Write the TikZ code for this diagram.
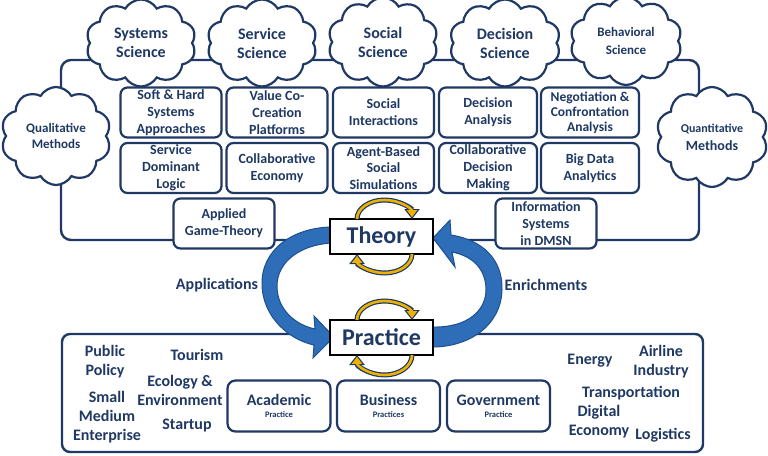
\documentclass[tikz,border=0pt]{standalone}
\usepackage{fontspec}
\setmainfont{Carlito}
\usetikzlibrary{shapes.symbols,arrows.meta}
\definecolor{navy}{HTML}{1F3864}
\definecolor{arrowblue}{HTML}{2E6DB8}
\definecolor{arrowdark}{HTML}{1E4F8F}
\definecolor{gold}{HTML}{EDB200}
\begin{document}
\begin{tikzpicture}[x=1pt,y=-1pt,
  every node/.style={text=navy},
  frame/.style={draw=navy, line width=2.4pt, rounded corners=10pt},
  cloudbox/.style={cloud, cloud puffs=10, cloud puff arc=120, cloud ignores aspect,
     draw=navy, line width=2.2pt, fill=white, align=center, inner sep=0pt,
     font=\bfseries\fontsize{16}{19}\selectfont},
  topbox/.style={draw=navy, line width=2.2pt, rounded corners=7pt, fill=white,
     minimum width=101pt, minimum height=50pt, align=center, inner sep=1pt,
     font=\bfseries\fontsize{14}{16.8}\selectfont},
  tpbox/.style={draw=black, line width=2pt, fill=white, minimum width=103pt,
     minimum height=35pt, inner sep=0pt, font=\bfseries\fontsize{24}{28}\selectfont},
  pbox/.style={draw=navy, line width=2.2pt, rounded corners=8pt, fill=white,
     minimum width=103pt, minimum height=51pt, align=center, inner sep=1pt},
  plain/.style={font=\bfseries\fontsize{16}{19}\selectfont, align=center, inner sep=0pt},
  bigarrow/.style={fill=arrowblue, draw=arrowdark, line width=1pt},
  cycleout/.style={draw=navy, line width=5pt, -{Triangle[length=10pt,width=15pt]}},
  cyclein/.style={draw=gold, line width=2.6pt, shorten >=1.8pt, -{Triangle[length=7pt,width=10pt]}}
]
\useasboundingbox (0,0) rectangle (768,455);
% frames
\draw[frame] (61,60) rectangle (699,240);
\draw[frame, rounded corners=8pt] (62,334) rectangle (703,452);
% clouds
\node[cloudbox, minimum width=110pt, minimum height=87pt] (sys) at (141,43) {Systems\\Science};
\node[cloudbox, minimum width=110pt, minimum height=87pt] (ser) at (262,43) {Service\\Science};
\node[cloudbox, minimum width=110pt, minimum height=89pt] (soc) at (383,42) {Social\\Science};
\node[cloudbox, minimum width=111pt, minimum height=87pt] (dec) at (505,43) {Decision\\Science};
\node[cloudbox, minimum width=112pt, minimum height=88pt, font=\bfseries\fontsize{13}{18}\selectfont] (beh) at (626,41) {Behavioral\\Science};
\node[cloudbox, minimum width=110pt, minimum height=98pt, font=\bfseries\fontsize{13}{16}\selectfont] (qual) at (56,136) {Qualitative\\Methods};
\node[cloudbox, minimum width=112pt, minimum height=100pt] (quan) at (712,137) {{\fontsize{12}{13}\selectfont Quantitative}\\[-1pt]{\fontsize{14}{15}\selectfont Methods}};
% top boxes
\node[topbox] (b11) at (171,112.5) {Soft \& Hard\\Systems\\Approaches};
\node[topbox] (b12) at (277,112.5) {Value Co-\\Creation\\Platforms};
\node[topbox] (b13) at (383.5,112.5) {Social\\Interactions};
\node[topbox, minimum width=98pt] (b14) at (488,112.5) {Decision\\Analysis};
\node[topbox, minimum width=98pt, font=\bfseries\fontsize{13.5}{15}\selectfont] (b15) at (590,112.5) {Negotiation \&\\Confrontation\\Analysis};
\node[topbox] (b21) at (171,168) {Service\\Dominant\\Logic};
\node[topbox] (b22) at (277,168) {Collaborative\\Economy};
\node[topbox] (b23) at (383.5,168) {Agent-Based\\Social\\Simulations};
\node[topbox, minimum width=98pt] (b24) at (488,168) {Collaborative\\Decision\\Making};
\node[topbox, minimum width=98pt] (b25) at (590,168) {Big Data\\Analytics};
\node[topbox] (agt) at (224,223.5) {Applied\\Game-Theory};
\node[topbox] (isd) at (546,223.5) {Information\\Systems\\in DMSN};
% big cycle arrows
\draw[bigarrow] (331,227) .. controls (292,228) and (261,250) .. (262,285)
   .. controls (263,318) and (290,340) .. (314,345)
   -- (313,358) -- (334,337) -- (314,316) -- (315,329)
   .. controls (296,325) and (277,310) .. (277,286)
   .. controls (277,262) and (300,245) .. (331,243) -- cycle;
\draw[bigarrow] (432,327) .. controls (468,328) and (487,310) .. (486,288)
   .. controls (485,268) and (472,256) .. (452,252)
   -- (455,267) -- (433,238) -- (450,220) -- (451,235)
   .. controls (483,240) and (503,260) .. (502,290)
   .. controls (501,325) and (470,347) .. (432,347) -- cycle;
% theory / practice
\node[tpbox] (th) at (381.5,236.5) {Theory};
\node[tpbox] (pr) at (381.5,337.5) {Practice};
\coordinate (tl) at (357,219); \coordinate (tr) at (412,219);
\coordinate (bl) at (357,254); \coordinate (br) at (412,254);
\coordinate (ptl) at (357,320); \coordinate (ptr) at (412,320);
\coordinate (pbl) at (357,355); \coordinate (pbr) at (412,355);
\foreach \s in {cycleout,cyclein}{
  \draw[\s] (tl) arc[start angle=180, end angle=360, x radius=27.5, y radius=19];
  \draw[\s] (br) arc[start angle=0, end angle=180, x radius=27.5, y radius=19];
  \draw[\s] (ptl) arc[start angle=180, end angle=360, x radius=27.5, y radius=19];
  \draw[\s] (pbr) arc[start angle=0, end angle=180, x radius=27.5, y radius=20];
}
\node[plain] (app) at (217,285) {Applications};
\node[plain] (enr) at (546,285) {Enrichments};
% practice boxes
\node[pbox] (aca) at (279,406) {{\bfseries\fontsize{16}{17}\selectfont Academic}\\{\bfseries\fontsize{8.5}{12}\selectfont Practice}};
\node[pbox] (bus) at (388.5,406) {{\bfseries\fontsize{16}{17}\selectfont Business}\\{\bfseries\fontsize{8.5}{12}\selectfont Practices}};
\node[pbox] (gov) at (498.5,406) {{\bfseries\fontsize{16}{17}\selectfont Government}\\{\bfseries\fontsize{8.5}{12}\selectfont Practice}};
% bottom words
\node[plain] (pp) at (105,362) {Public\\Policy};
\node[plain] (tou) at (197,355) {Tourism};
\node[plain] (eco) at (180,390) {Ecology \&\\Environment};
\node[plain] (sme) at (107,417) {Small\\Medium\\Enterprise};
\node[plain] (stu) at (187,426) {Startup};
\node[plain] (ene) at (590,361) {Energy};
\node[plain] (air) at (661,362) {Airline\\Industry};
\node[plain] (tra) at (631,393) {Transportation};
\node[plain] (dig) at (599,422) {Digital\\Economy};
\node[plain] (log) at (663,435) {Logistics};
\end{tikzpicture}
\end{document}
